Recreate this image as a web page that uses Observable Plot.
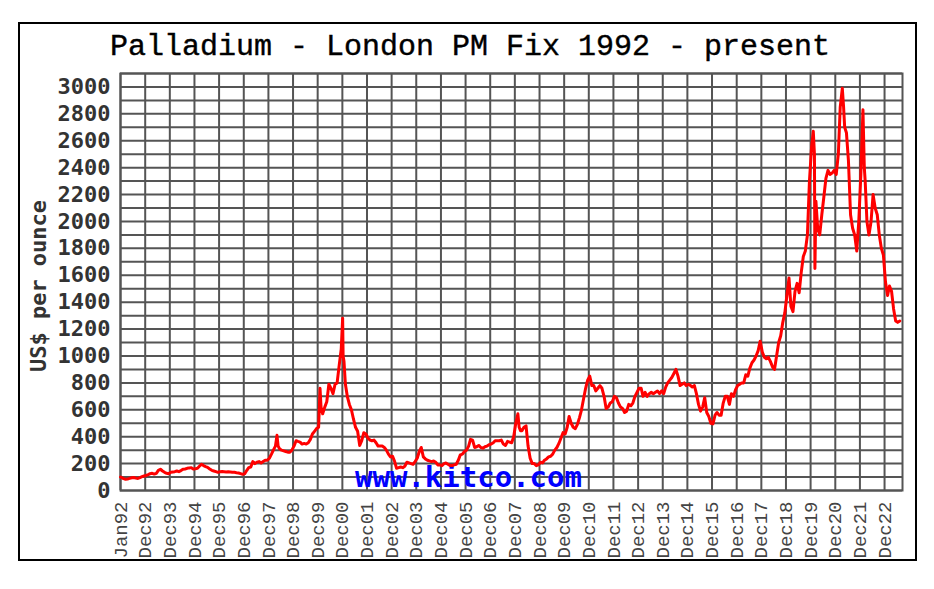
<!DOCTYPE html>
<html>
<head>
<meta charset="utf-8">
<script src="https://cdn.jsdelivr.net/npm/d3@7"></script>
<script src="https://cdn.jsdelivr.net/npm/@observablehq/plot@0.6"></script>
<style>
  html, body { margin: 0; padding: 0; background: #fff; }
  #wrap { position: relative; width: 934px; height: 589px; background: #fff; overflow: hidden; }
  #frame { position: absolute; left: 18px; top: 22px; width: 895px; height: 535px; border: 2px solid #000; }
  #title { position: absolute; left: 0; width: 934px; top: 30px; text-align: center; padding-left: 3px;
           font: 30px "Liberation Mono", "DejaVu Sans Mono", monospace; color: #000; white-space: pre;
           -webkit-text-stroke: 0.4px #000; }
  #chart { position: absolute; left: 0; top: 0; }
  #chart g[aria-label="y-axis tick label"] text { font: bold 22px "DejaVu Sans Mono", monospace; fill: #333; }
  #chart g[aria-label="x-axis tick label"] text { font: 19px "Liberation Mono", "DejaVu Sans Mono", monospace; fill: #444; }
</style>
</head>
<body>
<div id="wrap">
  <div id="frame"></div>
  <div id="title"></div>
  <div id="chart"></div>
</div>
<script>
// ---- Data ----
const titleText = "Palladium - London PM Fix 1992 - present";
const yAxisLabel = "US$ per ounce";
const watermark = "www.kitco.com";

const dates = [
  "1992-01-02","1992-02-15","1992-03-15","1992-04-15","1992-05-15","1992-06-15","1992-07-15","1992-08-15","1992-09-15","1992-10-15","1992-11-15","1992-12-15",
  "1993-01-15","1993-02-15","1993-03-15","1993-04-15","1993-05-15","1993-06-15","1993-07-15","1993-08-15","1993-09-15","1993-10-15","1993-11-15","1993-12-15",
  "1994-01-15","1994-02-15","1994-03-15","1994-04-15","1994-05-15","1994-06-15","1994-07-15","1994-08-15","1994-09-15","1994-10-15","1994-11-15","1994-12-15",
  "1995-01-15","1995-02-15","1995-03-15","1995-04-15","1995-05-15","1995-06-15","1995-07-15","1995-08-15","1995-09-15","1995-10-15","1995-11-15","1995-12-15",
  "1996-01-15","1996-02-15","1996-03-15","1996-04-15","1996-05-15","1996-06-15","1996-07-15","1996-08-15","1996-09-15","1996-10-15","1996-11-15","1996-12-15",
  "1997-01-15","1997-02-15","1997-03-15","1997-04-15","1997-05-15","1997-06-15","1997-07-15","1997-08-15","1997-09-15","1997-10-15","1997-11-15","1997-12-15",
  "1998-01-15","1998-02-15","1998-03-15","1998-04-15","1998-05-08","1998-05-25","1998-06-15","1998-07-15","1998-08-15","1998-09-15","1998-10-15","1998-11-15","1998-12-15",
  "1999-01-15","1999-02-15","1999-03-15","1999-04-15","1999-05-15","1999-06-15","1999-07-15","1999-08-15","1999-09-15","1999-10-15","1999-11-15","1999-12-15",
  "2000-01-15","2000-02-05","2000-02-20","2000-03-15","2000-04-15","2000-05-15","2000-06-15","2000-07-15","2000-08-15","2000-09-15","2000-10-15","2000-11-15","2000-12-15",
  "2001-01-05","2001-01-12","2001-01-25","2001-02-15","2001-03-15","2001-04-15","2001-05-15","2001-06-15","2001-07-15","2001-08-15","2001-09-15","2001-10-15","2001-11-15","2001-12-15",
  "2002-01-15","2002-02-15","2002-03-15","2002-04-15","2002-05-15","2002-06-15","2002-07-15","2002-08-15","2002-09-15","2002-10-15","2002-11-15","2002-12-15",
  "2003-01-15","2003-02-15","2003-03-15","2003-04-15","2003-05-15","2003-06-15","2003-07-15","2003-08-15","2003-09-15","2003-10-15","2003-11-15","2003-12-15",
  "2004-01-15","2004-02-15","2004-03-15","2004-04-15","2004-05-15","2004-06-15","2004-07-15","2004-08-15","2004-09-15","2004-10-15","2004-11-15","2004-12-15",
  "2005-01-15","2005-02-15","2005-03-15","2005-04-15","2005-05-15","2005-06-15","2005-07-15","2005-08-15","2005-09-15","2005-10-15","2005-11-15","2005-12-15",
  "2006-01-15","2006-02-15","2006-03-15","2006-04-15","2006-05-15","2006-06-15","2006-07-15","2006-08-15","2006-09-15","2006-10-15","2006-11-15","2006-12-15",
  "2007-01-15","2007-02-15","2007-03-15","2007-04-15","2007-05-15","2007-06-15","2007-07-15","2007-08-15","2007-09-15","2007-10-15","2007-11-15","2007-12-15",
  "2008-01-15","2008-02-15","2008-03-05","2008-03-25","2008-04-15","2008-05-15","2008-06-15","2008-07-15","2008-08-15","2008-09-15","2008-10-15","2008-11-15","2008-12-15",
  "2009-01-15","2009-02-15","2009-03-15","2009-04-15","2009-05-15","2009-06-15","2009-07-15","2009-08-15","2009-09-15","2009-10-15","2009-11-15","2009-12-15",
  "2010-01-15","2010-02-15","2010-03-15","2010-04-15","2010-05-15","2010-06-15","2010-07-15","2010-08-15","2010-09-15","2010-10-15","2010-11-15","2010-12-15",
  "2011-01-15","2011-02-15","2011-03-15","2011-04-15","2011-05-15","2011-06-15","2011-07-15","2011-08-15","2011-09-15","2011-10-15","2011-11-15","2011-12-15",
  "2012-01-15","2012-02-15","2012-03-15","2012-04-15","2012-05-15","2012-06-15","2012-07-15","2012-08-15","2012-09-15","2012-10-15","2012-11-15","2012-12-15",
  "2013-01-15","2013-02-15","2013-03-15","2013-04-15","2013-05-15","2013-06-15","2013-07-15","2013-08-15","2013-09-15","2013-10-15","2013-11-15","2013-12-15",
  "2014-01-15","2014-02-15","2014-03-15","2014-04-15","2014-05-15","2014-06-15","2014-07-15","2014-08-15","2014-09-15","2014-10-15","2014-11-15","2014-12-15",
  "2015-01-15","2015-02-15","2015-03-15","2015-04-15","2015-05-15","2015-06-15","2015-07-15","2015-08-15","2015-09-15","2015-10-15","2015-11-15","2015-12-15",
  "2016-01-15","2016-02-15","2016-03-15","2016-04-15","2016-05-15","2016-06-15","2016-07-15","2016-08-15","2016-09-15","2016-10-15","2016-11-15","2016-12-15",
  "2017-01-15","2017-02-15","2017-03-15","2017-04-15","2017-05-15","2017-06-15","2017-07-15","2017-08-15","2017-09-15","2017-10-15","2017-11-15","2017-12-15",
  "2018-01-15","2018-02-15","2018-03-15","2018-04-15","2018-05-15","2018-06-15","2018-07-15","2018-08-15","2018-09-15","2018-10-15","2018-11-15","2018-12-15",
  "2019-01-15","2019-02-15","2019-03-15","2019-04-15","2019-05-15","2019-06-15","2019-07-15","2019-08-15","2019-09-15","2019-10-15","2019-11-15","2019-12-15",
  "2020-01-15","2020-02-10","2020-02-27","2020-03-05","2020-03-20","2020-04-15","2020-05-15","2020-06-15","2020-07-15","2020-08-15","2020-09-15","2020-10-15","2020-11-15","2020-12-15",
  "2021-01-15","2021-02-15","2021-03-15","2021-04-15","2021-05-04","2021-05-20","2021-06-15","2021-07-15","2021-08-15","2021-09-15","2021-10-15","2021-11-15","2021-12-15",
  "2022-01-15","2022-02-15","2022-03-07","2022-03-20","2022-04-15","2022-05-15","2022-06-15","2022-07-15","2022-08-15","2022-09-15","2022-10-15","2022-11-15","2022-12-15",
  "2023-01-15","2023-02-15","2023-03-15","2023-04-15","2023-05-15","2023-06-15","2023-07-15","2023-08-15","2023-09-15"
];
const prices = [
  100,88,84,86,90,95,97,92,90,96,103,108,
  112,118,125,128,122,128,150,158,145,135,128,125,
  135,138,140,145,140,148,158,160,165,168,170,160,
  162,165,180,195,185,178,172,160,150,145,140,135,
  140,142,140,138,140,138,136,135,132,130,125,120,
  125,150,170,175,215,200,210,215,205,215,225,225,
  240,270,300,330,410,330,310,300,295,290,285,285,300,
  330,370,365,360,345,350,345,355,380,420,440,460,
  470,760,620,570,620,660,790,760,720,790,800,930,
  1050,1280,1000,960,790,700,640,600,530,470,440,335,370,430,
  420,390,375,370,375,355,330,330,330,320,300,270,
  250,255,215,165,170,175,170,180,210,205,200,195,
  215,240,290,320,250,235,225,220,215,220,210,190,
  190,185,200,205,195,185,185,190,195,225,265,270,
  290,300,330,380,375,320,325,335,320,315,325,330,
  340,345,355,370,370,370,375,345,335,365,360,355,
  400,500,570,470,445,445,470,480,330,240,200,200,185,
  190,210,205,225,235,250,255,270,300,320,350,390,
  430,420,470,550,500,470,460,490,540,600,680,760,
  820,850,780,780,740,760,780,760,700,610,620,650,
  660,700,690,650,620,610,580,590,640,630,650,700,
  730,760,760,700,730,700,720,730,720,730,740,720,
  740,720,770,800,820,840,870,900,850,780,790,800,
  780,790,780,770,780,720,640,590,620,690,580,550,
  500,495,560,580,560,560,650,700,700,640,720,700,
  750,780,790,800,800,860,850,910,950,970,1000,1040,
  1110,1030,990,980,990,960,920,900,1000,1100,1150,1250,
  1320,1450,1580,1370,1330,1480,1540,1470,1620,1740,1780,1900,
  2300,2550,2670,2500,1650,2150,1950,1900,2050,2180,2320,2380,2350,2360,
  2380,2350,2500,2850,2990,2850,2700,2660,2450,2050,1950,1900,1780,
  2000,2350,2830,2400,2300,2000,1900,2000,2200,2100,2050,1900,1800,
  1750,1550,1450,1520,1480,1350,1260,1250,1260
];

const xTickLabels = ["Jan92","Dec92","Dec93","Dec94","Dec95","Dec96","Dec97","Dec98","Dec99","Dec00",
  "Dec01","Dec02","Dec03","Dec04","Dec05","Dec06","Dec07","Dec08","Dec09","Dec10",
  "Dec11","Dec12","Dec13","Dec14","Dec15","Dec16","Dec17","Dec18","Dec19","Dec20","Dec21","Dec22"];
const xTickYears = [1992,1993,1994,1995,1996,1997,1998,1999,2000,2001,2002,2003,2004,2005,2006,2007,
  2008,2009,2010,2011,2012,2013,2014,2015,2016,2017,2018,2019,2020,2021,2022,2023];
const yTicks = [0,200,400,600,800,1000,1200,1400,1600,1800,2000,2200,2400,2600,2800,3000];
const yGrid = [0,100,200,300,400,500,600,700,800,900,1000,1100,1200,1300,1400,1500,1600,1700,1800,1900,
  2000,2100,2200,2300,2400,2500,2600,2700,2800,2900,3000,3100];

// ---- Build ----
const data = dates.map((d, i) => ({date: new Date(d + "T00:00:00Z"), price: prices[i]}));
const xTickDates = xTickYears.map(y => new Date(Date.UTC(y, 0, 1)));
const labelMap = new Map(xTickDates.map((d, i) => [+d, xTickLabels[i]]));

document.getElementById("title").textContent = titleText;

const chart = Plot.plot({
  width: 934,
  height: 589,
  marginLeft: 120,
  marginRight: 32,
  marginTop: 73,
  marginBottom: 99,
  style: {background: "transparent", overflow: "visible"},
  x: {type: "utc", domain: [new Date("1992-01-01T00:00:00Z"), new Date("2023-09-24T00:00:00Z")]},
  y: {domain: [0, 3100]},
  marks: [
    Plot.ruleY(yGrid, {stroke: "#555", strokeWidth: 2}),
    Plot.ruleX(xTickDates, {stroke: "#555", strokeWidth: 2}),
    Plot.frame({stroke: "#555", strokeWidth: 2}),
    Plot.text([watermark], {frameAnchor: "bottom", dx: -43, dy: -4, text: d => d, fill: "#0000ff",
      fontFamily: "DejaVu Sans Mono", fontWeight: "bold", fontSize: 29, lineAnchor: "bottom"}),
    Plot.line(data, {x: "date", y: "price", stroke: "#ff0000", strokeWidth: 3}),
    Plot.axisY(yTicks, {tickSize: 0, tickPadding: 10, label: null, tickFormat: d => String(d)}),
    Plot.axisX(xTickDates, {tickSize: 0, tickPadding: 11, tickRotate: -90, label: null,
      tickFormat: d => labelMap.get(+d)}),
    Plot.text([yAxisLabel], {frameAnchor: "left", dx: -82, dy: 4, rotate: -90, textAnchor: "middle",
      text: d => d, fontFamily: "DejaVu Sans Mono", fontWeight: "bold", fontSize: 22, fill: "#333"})
  ]
});
document.getElementById("chart").appendChild(chart);
</script>
</body>
</html>
